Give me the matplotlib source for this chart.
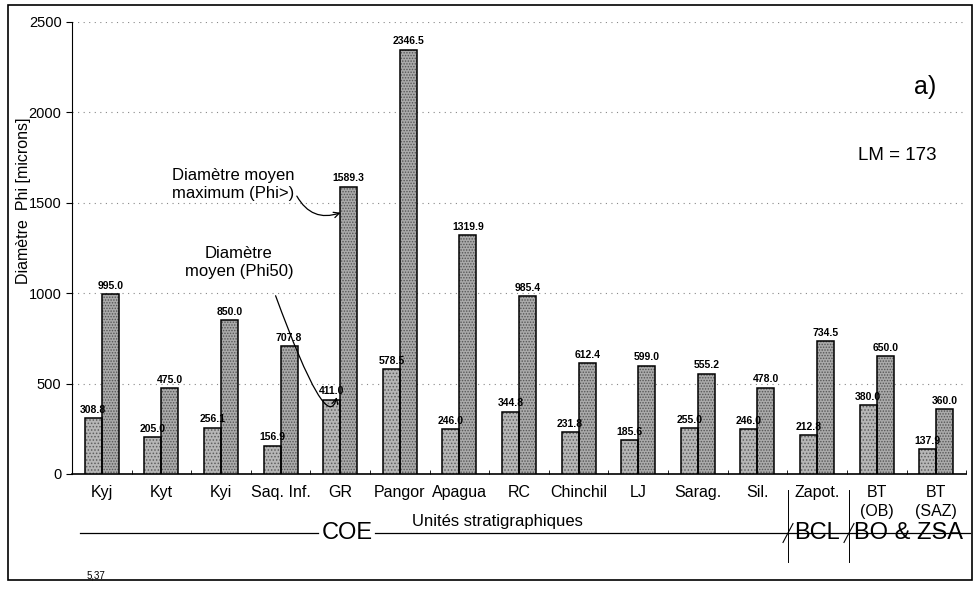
import matplotlib.pyplot as plt
import numpy as np
from matplotlib.patches import Rectangle
from matplotlib.lines import Line2D

# data
units = ['Kyj', 'Kyt', 'Kyi', 'Saq. Inf.', 'GR', 'Pangor', 'Apagua', 'RC',
         'Chinchil', 'LJ', 'Sarag.', 'Sil.', 'Zapot.', 'BT\n(OB)', 'BT\n(SAZ)']
phi50 = [308.8, 205.0, 256.1, 156.9, 411.0, 578.5, 246.0, 344.8,
         231.8, 185.6, 255.0, 246.0, 212.8, 380.0, 137.9]
phi_max = [995.0, 475.0, 850.0, 707.8, 1589.3, 2346.5, 1319.9, 985.4,
           612.4, 599.0, 555.2, 478.0, 734.5, 650.0, 360.0]
groups = ['COE', 'BCL', 'BO & ZSA']
yticks = [0, 500, 1000, 1500, 2000, 2500]

plt.rcParams['font.family'] = ['Liberation Sans', 'DejaVu Sans']
plt.rcParams['hatch.linewidth'] = 0.7

fig = plt.figure(figsize=(9.74, 5.91), dpi=100)
ax = fig.add_axes([0.0739, 0.198, 0.918, 0.765])

x = np.arange(len(units))
w = 0.285
# stippled fill first, then the black outline on top
ax.bar(x - w / 2, phi50, width=w, color='#b6b6b6', edgecolor='#5e5e5e', hatch='.....', linewidth=0, zorder=3)
ax.bar(x + w / 2, phi_max, width=w, color='#aaaaaa', edgecolor='#555555', hatch='......', linewidth=0, zorder=3)
b1 = ax.bar(x - w / 2, phi50, width=w, fill=False, edgecolor='black', linewidth=1.1, zorder=4)
b2 = ax.bar(x + w / 2, phi_max, width=w, fill=False, edgecolor='black', linewidth=1.1, zorder=4)

for rect, v in zip(b1, phi50):
    ax.text(rect.get_x() + rect.get_width() / 2, v + 18, f'{v:.1f}', ha='center', va='bottom',
            fontsize=7.5, fontweight='bold', zorder=5)
for rect, v in zip(b2, phi_max):
    ax.text(rect.get_x() + rect.get_width() / 2, v + 18, f'{v:.1f}', ha='center', va='bottom',
            fontsize=7.5, fontweight='bold', zorder=5)

ax.set_xlim(-0.5, len(units) - 0.5)
ax.set_ylim(0, 2500)
ax.set_yticks(yticks)
ax.tick_params(axis='y', labelsize=10.5, length=4, direction='out')
ax.set_xticks(x)
ax.set_xticklabels(units, fontsize=11.5, va='top', linespacing=1.3)
ax.tick_params(axis='x', length=0, pad=8)
ax.set_xticks(np.arange(len(units) + 1) - 0.5, minor=True)
ax.tick_params(axis='x', which='minor', length=3, direction='in')
ax.yaxis.grid(True, linestyle=(0, (1, 4)), color='#888888', linewidth=0.8)
ax.set_axisbelow(True)
for s in ['top', 'right']:
    ax.spines[s].set_visible(False)
ax.spines['left'].set_linewidth(0.8)
ax.spines['bottom'].set_linewidth(1.2)

fig.text(0.024, 0.66, 'Diamètre  Phi [microns]', rotation=90, ha='center', va='center', fontsize=11.5)
fig.text(0.511, 0.117, 'Unités stratigraphiques', ha='center', va='center', fontsize=12)

# annotations
ax.text(14.0, 2140, 'a)', ha='right', va='center', fontsize=18)
ax.text(14.0, 1760, 'LM = 173', ha='right', va='center', fontsize=13.5)
ax.text(2.2, 1600, 'Diamètre moyen\nmaximum (Phi>)', ha='center', va='center', fontsize=12)
ax.text(2.3, 1170, 'Diamètre\nmoyen (Phi50)', ha='center', va='center', fontsize=12)
ax.annotate('', xy=(4.05, 1450), xytext=(3.25, 1550),
            arrowprops=dict(arrowstyle='->', connectionstyle='arc3,rad=0.45', lw=0.9))
ax.annotate('', xy=(3.95, 440), xytext=(2.9, 1000),
            arrowprops=dict(arrowstyle='->', connectionstyle='angle3,angleA=-70,angleB=80', lw=0.9))

# group line below the axis
ly = 1 - 533 / 591
fig.add_artist(Line2D([80 / 974, 318 / 974], [ly, ly], color='black', lw=0.9))
fig.add_artist(Line2D([375 / 974, 970 / 974], [ly, ly], color='black', lw=0.9))
for gx in [788, 849]:
    fig.add_artist(Line2D([gx / 974, gx / 974], [1 - 490 / 591, 1 - 562 / 591], color='black', lw=0.7))
    fig.add_artist(Line2D([(gx - 5) / 974, (gx + 5) / 974], [ly - 0.016, ly + 0.016], color='black', lw=0.8))
fig.text(347 / 974, ly, groups[0], ha='center', va='center', fontsize=17)
fig.text(817 / 974, ly, groups[1], ha='center', va='center', fontsize=17)
fig.text(908 / 974, ly, groups[2], ha='center', va='center', fontsize=17)
fig.text(96 / 974, 1 - 575 / 591, '5,37', ha='center', va='center', fontsize=7)

# scanned page frame
fig.add_artist(Rectangle((8 / 974, 1 - 580 / 591), 964 / 974, 575 / 591, fill=False,
                         edgecolor='black', lw=1.2, transform=fig.transFigure))

plt.savefig('out.png', dpi=100)
